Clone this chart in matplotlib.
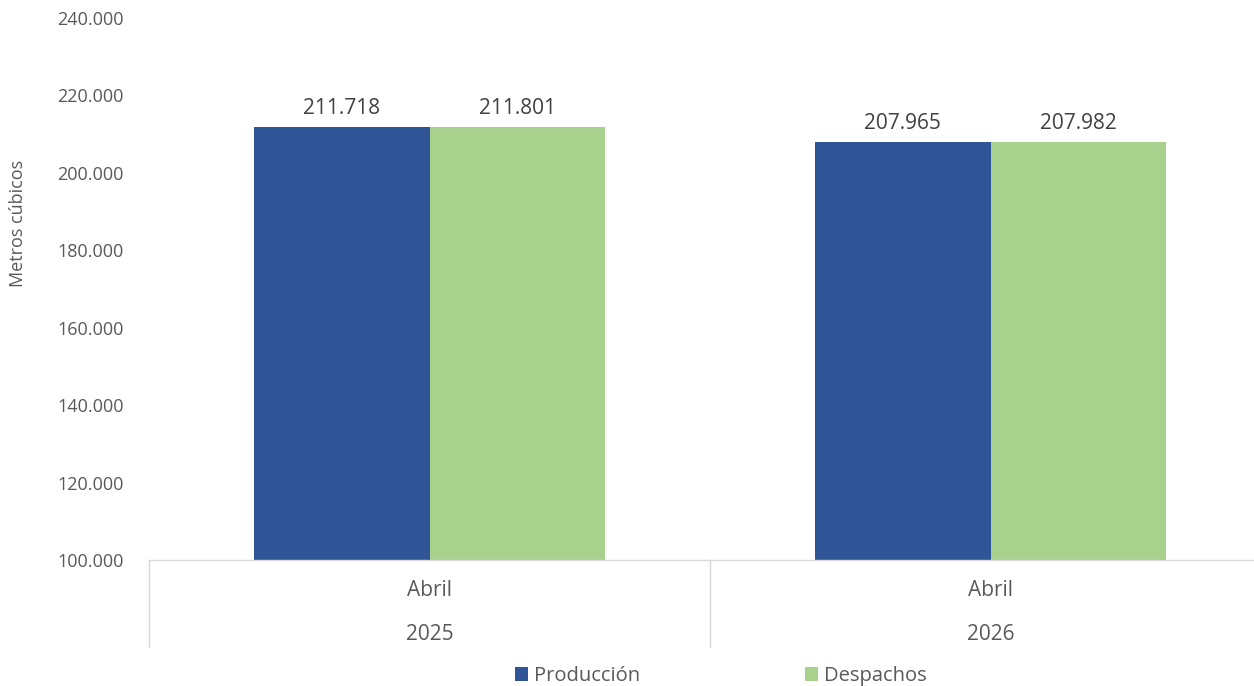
import matplotlib
matplotlib.use('Agg')
from matplotlib import pyplot as plt
from matplotlib import transforms
import numpy as np

months = ['Abril', 'Abril']
years = ['2025', '2026']
produccion = [211718, 207965]
despachos = [211801, 207982]
series_names = ['Producción', 'Despachos']
yticks = np.arange(100000, 240001, 20000)

blue = '#2F5597'
green = '#A9D18E'
grey = '#595959'


def fmt(v):
    return f'{int(v):,}'.replace(',', '.')


plt.rcParams['font.family'] = ['Open Sans', 'DejaVu Sans']

fig = plt.figure(figsize=(12.54, 6.86), dpi=100)
W, H = 1254, 686
ax = fig.add_axes([149 / W, (H - 560) / H, 1122 / W, 542 / H])

x = np.arange(len(years))
w = 0.3137
b1 = ax.bar(x - w / 2, produccion, w, color=blue, label=series_names[0])
b2 = ax.bar(x + w / 2, despachos, w, color=green, label=series_names[1])

for bars, vals in ((b1, produccion), (b2, despachos)):
    for r, v in zip(bars, vals):
        ax.annotate(fmt(v), (r.get_x() + r.get_width() / 2, v),
                    xytext=(0, 6), textcoords='offset points',
                    ha='center', va='bottom', fontsize=15, color='#404040')

ax.set_xlim(-0.5, len(years) - 0.5)
ax.set_ylim(100000, 240000)
ax.set_yticks(yticks)
ax.set_yticklabels([fmt(t) for t in yticks])
ax.tick_params(axis='y', length=0, pad=18, labelsize=13, labelcolor=grey)
ax.set_xticks([])

for s in ('top', 'right', 'left'):
    ax.spines[s].set_visible(False)
ax.spines['bottom'].set_color('#D9D9D9')
ax.spines['bottom'].set_linewidth(1)

trans = transforms.blended_transform_factory(ax.transData, ax.transAxes)
for sep in np.arange(len(years) + 1) - 0.5:
    ax.plot([sep, sep], [0, -87 / 542], transform=trans, color='#D9D9D9',
            lw=1, clip_on=False)
for xi, m, yr in zip(x, months, years):
    ax.text(xi, -30 / 542, m, transform=trans, ha='center', va='center',
            fontsize=15, color=grey)
    ax.text(xi, -74 / 542, yr, transform=trans, ha='center', va='center',
            fontsize=15, color=grey)

fig.text(18 / W, (H - 223) / H, 'Metros cúbicos', rotation=90,
         ha='center', va='center', fontsize=13, color=grey)

fig.legend(handles=[b1, b2], loc='center', ncol=2,
           bbox_to_anchor=(721 / W, (H - 676) / H), frameon=False,
           fontsize=14.5, labelcolor=grey, handlelength=0.65, handleheight=0.65,
           handletextpad=0.3, columnspacing=8.2)

fig.savefig('out.png', dpi=100)
